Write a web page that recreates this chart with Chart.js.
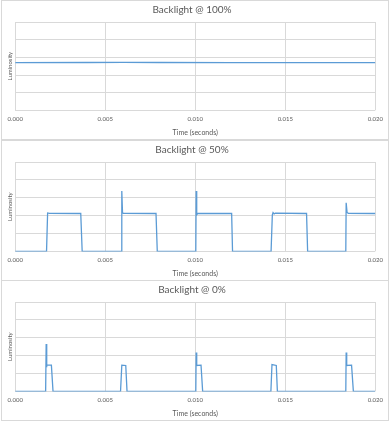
<!DOCTYPE html>
<html>
<head>
<meta charset="utf-8">
<script src="https://cdn.jsdelivr.net/npm/chart.js@4.4.1/dist/chart.umd.min.js"></script>
<style>
  html, body { margin: 0; padding: 0; background: #fff; }
  body { width: 390px; height: 421px; position: relative; overflow: hidden; }
  .panel { position: absolute; left: 1px; width: 386px; border: 1px solid #d9d9d9; background: #fff; }
  .panel canvas { display: block; }
</style>
</head>
<body>
<div class="panel" style="top:0px;height:138px;"><canvas id="chart100"></canvas></div>
<div class="panel" style="top:140px;height:139px;"><canvas id="chart50"></canvas></div>
<div class="panel" style="top:280px;height:139px;"><canvas id="chart0"></canvas></div>
<script>
//
// Data (time in seconds, luminosity in arbitrary units)
var xTicks = [0.000, 0.005, 0.010, 0.015, 0.020];

// Backlight @ 100%
var time100 = [0, 0.004, 0.006, 0.008, 0.012, 0.016, 0.020];
var lum100 = [2.70, 2.71, 2.72, 2.71, 2.70, 2.70, 2.70];

// Backlight @ 50%
var time50 = [0, 0.00174, 0.00180, 0.00190, 0.00364, 0.00372,
  0.00590, 0.00592, 0.00596, 0.00602, 0.00782, 0.00789,
  0.01003, 0.01005, 0.01008, 0.01014, 0.01202, 0.01207,
  0.01421, 0.01428, 0.01432, 0.01438, 0.01445, 0.01618, 0.01624,
  0.01836, 0.01838, 0.01843, 0.01850, 0.02000];
var lum50 = [0, 0, 2.15, 2.13, 2.12, 0,
  0, 3.38, 2.15, 2.13, 2.12, 0,
  0, 3.38, 2.05, 2.13, 2.12, 0,
  0, 2.05, 2.17, 2.10, 2.14, 2.12, 0,
  0, 2.72, 2.18, 2.13, 2.12];

// Backlight @ 0%
var time0 = [0, 0.00169, 0.00172, 0.00174, 0.00176, 0.00201, 0.00210,
  0.00585, 0.00592, 0.00614, 0.00621,
  0.01003, 0.01005, 0.01008, 0.01032, 0.01041,
  0.01420, 0.01426, 0.01450, 0.01456,
  0.01836, 0.01838, 0.01841, 0.01868, 0.01878, 0.02000];
var lum0 = [0, 0, 2.65, 1.35, 1.47, 1.47, 0,
  0, 1.47, 1.45, 0,
  0, 2.18, 1.45, 1.47, 0,
  0, 1.50, 1.45, 0,
  0, 2.18, 1.45, 1.47, 0, 0];

var gridColor = '#d9d9d9';
var textColor = '#595959';
var lineColor = '#5b9bd5';

function toPoints(times, values){
  var pts = [];
  for (var i = 0; i < times.length; i++){
    pts.push({ x: times[i], y: values[i] });
  }
  return pts;
}

//
// Draw one panel
function drawPanel(canvas_id, title, times, values){
  var ctx = document.getElementById(canvas_id).getContext('2d');
  new Chart(ctx, {
    type: 'scatter',
    data: {
      datasets: [{
        data: toPoints(times, values),
        showLine: true,
        borderColor: lineColor,
        borderWidth: 1.3,
        pointRadius: 0,
        tension: 0
      }]
    },
    options: {
      responsive: true,
      maintainAspectRatio: false,
      animation: false,
      layout: { padding: { left: 4, right: 10, top: 2, bottom: 2 } },
      plugins: {
        legend: { display: false },
        tooltip: { enabled: false },
        title: {
          display: true,
          text: title,
          color: textColor,
          font: { family: 'Lato', size: 10, weight: 'normal' },
          padding: { top: 1, bottom: 6 }
        }
      },
      scales: {
        x: {
          type: 'linear',
          min: 0,
          max: 0.02,
          afterBuildTicks: function(axis){
            axis.ticks = xTicks.map(function(v){ return { value: v }; });
          },
          ticks: {
            color: textColor,
            font: { family: 'Lato', size: 6 },
            maxRotation: 0,
            padding: 5,
            callback: function(v){ return v.toFixed(3); }
          },
          grid: { color: gridColor, drawTicks: false },
          border: { display: false },
          title: {
            display: true,
            text: 'Time (seconds)',
            color: textColor,
            font: { family: 'Lato', size: 7 },
            padding: { top: 1, bottom: 0 }
          }
        },
        y: {
          min: 0,
          max: 5,
          ticks: { display: false, stepSize: 1 },
          grid: { color: gridColor, drawTicks: false },
          border: { display: false },
          title: {
            display: true,
            text: 'Luminosity',
            color: textColor,
            font: { family: 'Lato', size: 6 },
            padding: { top: 0, bottom: 2 }
          }
        }
      }
    }
  });
}

drawPanel('chart100', 'Backlight @ 100%', time100, lum100);
drawPanel('chart50', 'Backlight @ 50%', time50, lum50);
drawPanel('chart0', 'Backlight @ 0%', time0, lum0);
</script>
</body>
</html>
